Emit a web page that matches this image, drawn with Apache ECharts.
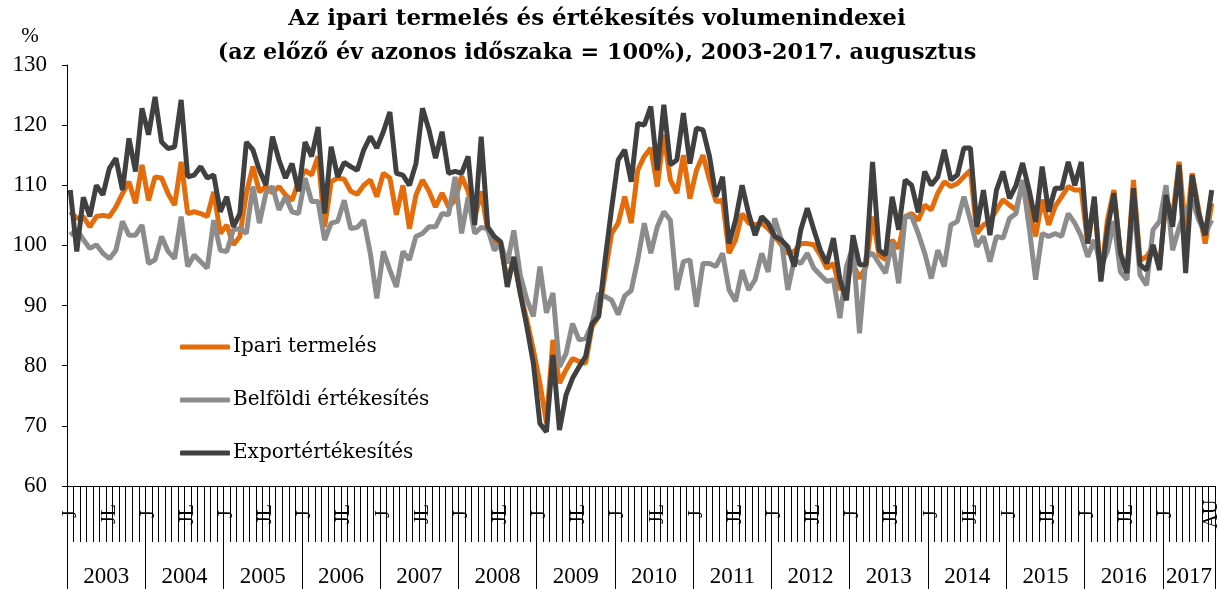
<!DOCTYPE html>
<html>
<head>
<meta charset="utf-8">
<script src="https://cdn.jsdelivr.net/npm/echarts@6/dist/echarts.min.js"></script>
<style>
html, body { margin: 0; padding: 0; background: #fff; }
#main { width: 1222px; height: 589px; }
</style>
</head>
<body>
<div id="main"></div>
<script>
// évek és hónap-feliratok
var years = ['2003', '2004', '2005', '2006', '2007', '2008', '2009', '2010', '2011', '2012', '2013', '2014', '2015', '2016', '2017'];
var monthLabels = ['J', '', '', '', '', '', 'JL', '', '', '', '', ''];
var lastYearLabels = ['J', '', '', '', '', '', '', 'AU'];
var monthCount = 176; // 2003 jan - 2017 aug

// Ipari termelés
var ipari = [
  105.6, 104.5, 104.8, 103.1, 104.8, 105, 104.8, 106.4, 108.6, 110.6, 107, 113.4,
  107.5, 111.4, 111.2, 108.6, 106.7, 113.9, 105.3, 105.6, 105.3, 104.8, 108.9, 102,
  103.4, 100.1, 101.5, 108.7, 113.1, 108.9, 109.8, 108.7, 109.8, 108.4, 107.5, 110.6,
  112.5, 111.7, 114.8, 103.1, 110.6, 111.2, 111, 109, 108.5, 110, 110.9, 108.1,
  112, 111.2, 105.1, 110, 102.8, 108.4, 110.9, 109, 106.4, 108.7, 106.4, 107.5,
  111.5, 109, 104.5, 109, 102.5, 100.9, 99.8, 94.3, 97.6, 92, 87.6, 82.6,
  77.1, 70.5, 84.3, 77.1, 79.3, 81.2, 80.7, 80.4, 86.5, 88.2, 95.4, 102,
  103.7, 108.1, 103.7, 112.5, 114.8, 116.2, 109.8, 118.4, 110.9, 108.7, 115, 107.8,
  112.5, 115, 110.9, 107.3, 107.5, 98.7, 100.9, 105.3, 103.7, 103.4, 103.7, 102.8,
  101.5, 100.1, 98.7, 99, 100.3, 100.3, 100.1, 98.4, 96.2, 97, 92.6, 94.3,
  97, 94.5, 96.5, 104.8, 98.4, 97.6, 100.9, 99.5, 104.8, 105.3, 104.2, 106.7,
  105.9, 108.7, 110.6, 109.8, 110.3, 111.4, 112.5, 102, 103.4, 104, 105.9, 107.6,
  106.7, 105.9, 110.3, 105.9, 101.5, 107.6, 103.4, 106.5, 108.1, 109.8, 109.2, 109.2,
  100.3, 107.6, 94.3, 104.2, 109.2, 98.7, 95.4, 110.9, 97.6, 98.1, 99.8, 96.5,
  107.8, 104.8, 113.9, 102, 112, 105.9, 100.3, 107
];

// Belföldi értékesítés
var belfoldi = [
  101.7, 102.6, 101, 99.5, 100.1, 98.7, 97.8, 99.2, 104, 101.7, 101.7, 103.4,
  97, 97.6, 101.5, 99, 97.8, 104.8, 96.5, 98.4, 97.3, 96.2, 104.2, 99.2,
  99, 102.6, 102.8, 102, 109.8, 103.7, 108.7, 109.8, 105.9, 108.1, 105.6, 105.3,
  111.2, 107.3, 107.3, 100.9, 103.7, 104, 107.5, 102.8, 103, 104.2, 98.7, 91.2,
  99, 95.9, 93.1, 99, 97.6, 101.5, 102, 103.1, 103.1, 105.3, 105.1, 111.4,
  102, 108, 102, 103, 102.8, 99.2, 100.3, 97, 102.5, 95, 91, 88.2,
  96.5, 88.8, 92.1, 79.8, 82, 87, 84.3, 84.5, 87, 92, 91.5, 90.9,
  88.5, 91.6, 92.5, 97.6, 103.7, 98.7, 103.1, 105.6, 104.2, 92.6, 97.3, 97.6,
  89.8, 97, 97, 96.5, 98.7, 92.6, 90.7, 95.9, 92.6, 94.3, 98.7, 95.6,
  104.5, 101, 92.6, 97.6, 97, 98.7, 96.2, 95.1, 94, 94.3, 87.9, 96.5,
  99.8, 85.4, 98.1, 98.7, 97, 95.4, 100.6, 93.7, 104.8, 104.8, 102, 98.7,
  94.5, 99.2, 96.5, 103.4, 104, 108.1, 104.2, 99.8, 101.5, 97.3, 101.5, 101.2,
  104.5, 105.3, 110.9, 103.1, 94.3, 102, 101.5, 102, 101.5, 105.3, 103.7, 101.5,
  98.1, 100.9, 96.5, 99, 104, 95.6, 94.3, 107.6, 95.1, 93.4, 102.6, 104,
  110, 99.2, 103, 105.9, 107.6, 104.2, 102, 104.2
];

// Exportértékesítés
var exportErt = [
  109.2, 99, 108, 104.8, 110, 108.4, 112.8, 114.5, 109.2, 117.8, 112.3, 122.8,
  118.4, 124.7, 117.2, 116.1, 116.4, 124.2, 111.4, 111.7, 113.1, 111.2, 111.7, 105.6,
  108.1, 103.1, 105.3, 117.2, 115.9, 112.5, 110, 118.1, 114.2, 111.2, 113.6, 109,
  117.2, 114.8, 119.7, 105.3, 116.4, 111.4, 113.8, 113.1, 112.5, 115.9, 118.1, 116.2,
  118.9, 122.2, 112, 111.7, 110, 113.6, 122.8, 119.2, 114.5, 118.9, 112, 112.3,
  112, 114.8, 103.4, 118.1, 103.1, 101.5, 100.6, 93.1, 98.1, 92, 86.5, 80.4,
  70.4, 69, 81.8, 69.3, 75.1, 77.9, 79.8, 81.5, 87, 88.2, 97.6, 106.2,
  114.2, 115.9, 110.6, 120.3, 120, 123.1, 112.5, 123.4, 113.4, 114.2, 122, 113.6,
  119.5, 119.2, 114.8, 108.1, 111.4, 100.3, 104.2, 110, 105.3, 101.7, 104.8, 103.7,
  101.5, 100.9, 99.8, 96.5, 102.6, 106.2, 102.6, 99.2, 97, 101.2, 94.3, 90.9,
  101.7, 96.8, 96.8, 113.9, 99.2, 98.4, 108.1, 102.6, 110.9, 110, 105.5, 112.3,
  110, 111.4, 115.9, 110.9, 111.7, 116.2, 116.2, 103.1, 109.2, 101.7, 109.2, 112.3,
  107.8, 110, 113.7, 109.2, 103.9, 113.1, 105.6, 109.5, 109.5, 113.9, 110, 113.9,
  100.3, 108.1, 94, 102.6, 108.7, 98.7, 95.4, 109.5, 96.8, 95.9, 100.1, 95.9,
  108.4, 103.1, 113.4, 95.4, 111.7, 105.3, 101.7, 109.2
];

var numFont = '"Liberation Serif", serif';
var txtFont = '"DejaVu Serif", "Liberation Serif", serif';

// hónap kategóriák
var months = [];
for (var i = 0; i < monthCount; i++) {
  months.push(years[Math.floor(i / 12)] + '-' + (i % 12 + 1));
}

// év-sáv: 177 pont, évfelirat az év közepén
var yearPoints = [];
var yearAt = {};
for (var k = 0; k < years.length; k++) {
  var s = k * 12;
  var e = Math.min(s + 12, monthCount);
  yearAt[(s + e) / 2] = years[k];
}
for (var j = 0; j <= monthCount; j++) yearPoints.push('p' + j);

var myChart = echarts.init(document.getElementById('main'));

var option = {
  animation: false,
  backgroundColor: '#fff',
  title: {
    text: '{a|Az ipari termelés és értékesítés volumenindexei}\n{b|(az előző év azonos időszaka = 100%), 2003-2017. augusztus}',
    left: 592,
    top: -3,
    textAlign: 'center',
    textStyle: {
      fontFamily: txtFont,
      fontWeight: 'bold',
      fontSize: 23,
      lineHeight: 34,
      color: '#000',
      rich: {
        a: { fontFamily: txtFont, fontWeight: 'bold', fontSize: 23, lineHeight: 34, color: '#000' },
        b: { fontFamily: txtFont, fontWeight: 'bold', fontSize: 22.3, lineHeight: 34, color: '#000' }
      }
    }
  },
  legend: {
    orient: 'vertical',
    left: 180,
    top: 337,
    padding: 0,
    icon: 'roundRect',
    itemWidth: 50,
    itemHeight: 5,
    itemGap: 33,
    textStyle: { fontFamily: txtFont, fontSize: 20, color: '#000', padding: [0, 0, 0, -2] },
    data: ['Ipari termelés', 'Belföldi értékesítés', 'Exportértékesítés']
  },
  grid: { left: 67, right: 7, top: 65, bottom: 103, containLabel: false },
  xAxis: [
    {
      type: 'category',
      data: months,
      boundaryGap: true,
      axisLine: { show: true, lineStyle: { color: '#000', width: 1 } },
      axisTick: { show: true, interval: 0, length: 56, lineStyle: { color: '#000', width: 1 } },
      axisLabel: {
        interval: 0,
        rotate: 90,
        margin: 28,
        align: 'center',
        verticalAlign: 'middle',
        fontFamily: numFont,
        fontSize: 20,
        color: '#000',
        formatter: function (v, idx) {
          if (idx >= 168) return lastYearLabels[idx - 168];
          return monthLabels[idx % 12];
        }
      }
    },
    {
      type: 'category',
      data: yearPoints,
      boundaryGap: false,
      position: 'bottom',
      axisLine: { show: false },
      axisTick: {
        show: true,
        length: 103,
        interval: function (idx) { return idx % 12 === 0 || idx === monthCount; },
        lineStyle: { color: '#000', width: 1 }
      },
      axisLabel: {
        interval: function (idx) { return yearAt[idx] !== undefined; },
        margin: 79,
        fontFamily: numFont,
        fontSize: 23,
        color: '#000',
        formatter: function (v, idx) { return yearAt[idx] || ''; }
      }
    }
  ],
  yAxis: {
    type: 'value',
    min: 60,
    max: 130,
    interval: 10,
    name: '%',
    nameLocation: 'end',
    nameGap: 18,
    nameTextStyle: { fontFamily: numFont, fontSize: 21, color: '#000', align: 'center', padding: [0, 74, 0, 0] },
    axisLine: { show: true, lineStyle: { color: '#000', width: 1 } },
    axisTick: { show: true, length: 5, lineStyle: { color: '#000' } },
    axisLabel: { margin: 20, fontFamily: numFont, fontSize: 23, color: '#000' },
    splitLine: { show: false }
  },
  series: [
    {
      name: 'Ipari termelés',
      type: 'line',
      data: ipari,
      symbol: 'none',
      color: '#E46C0A',
      lineStyle: { width: 5, color: '#E46C0A' }
    },
    {
      name: 'Belföldi értékesítés',
      type: 'line',
      data: belfoldi,
      symbol: 'none',
      color: '#8C8C8C',
      lineStyle: { width: 5, color: '#8C8C8C' }
    },
    {
      name: 'Exportértékesítés',
      type: 'line',
      data: exportErt,
      symbol: 'none',
      color: '#404040',
      lineStyle: { width: 5, color: '#404040' }
    }
  ]
};
myChart.setOption(option);
</script>
</body>
</html>
